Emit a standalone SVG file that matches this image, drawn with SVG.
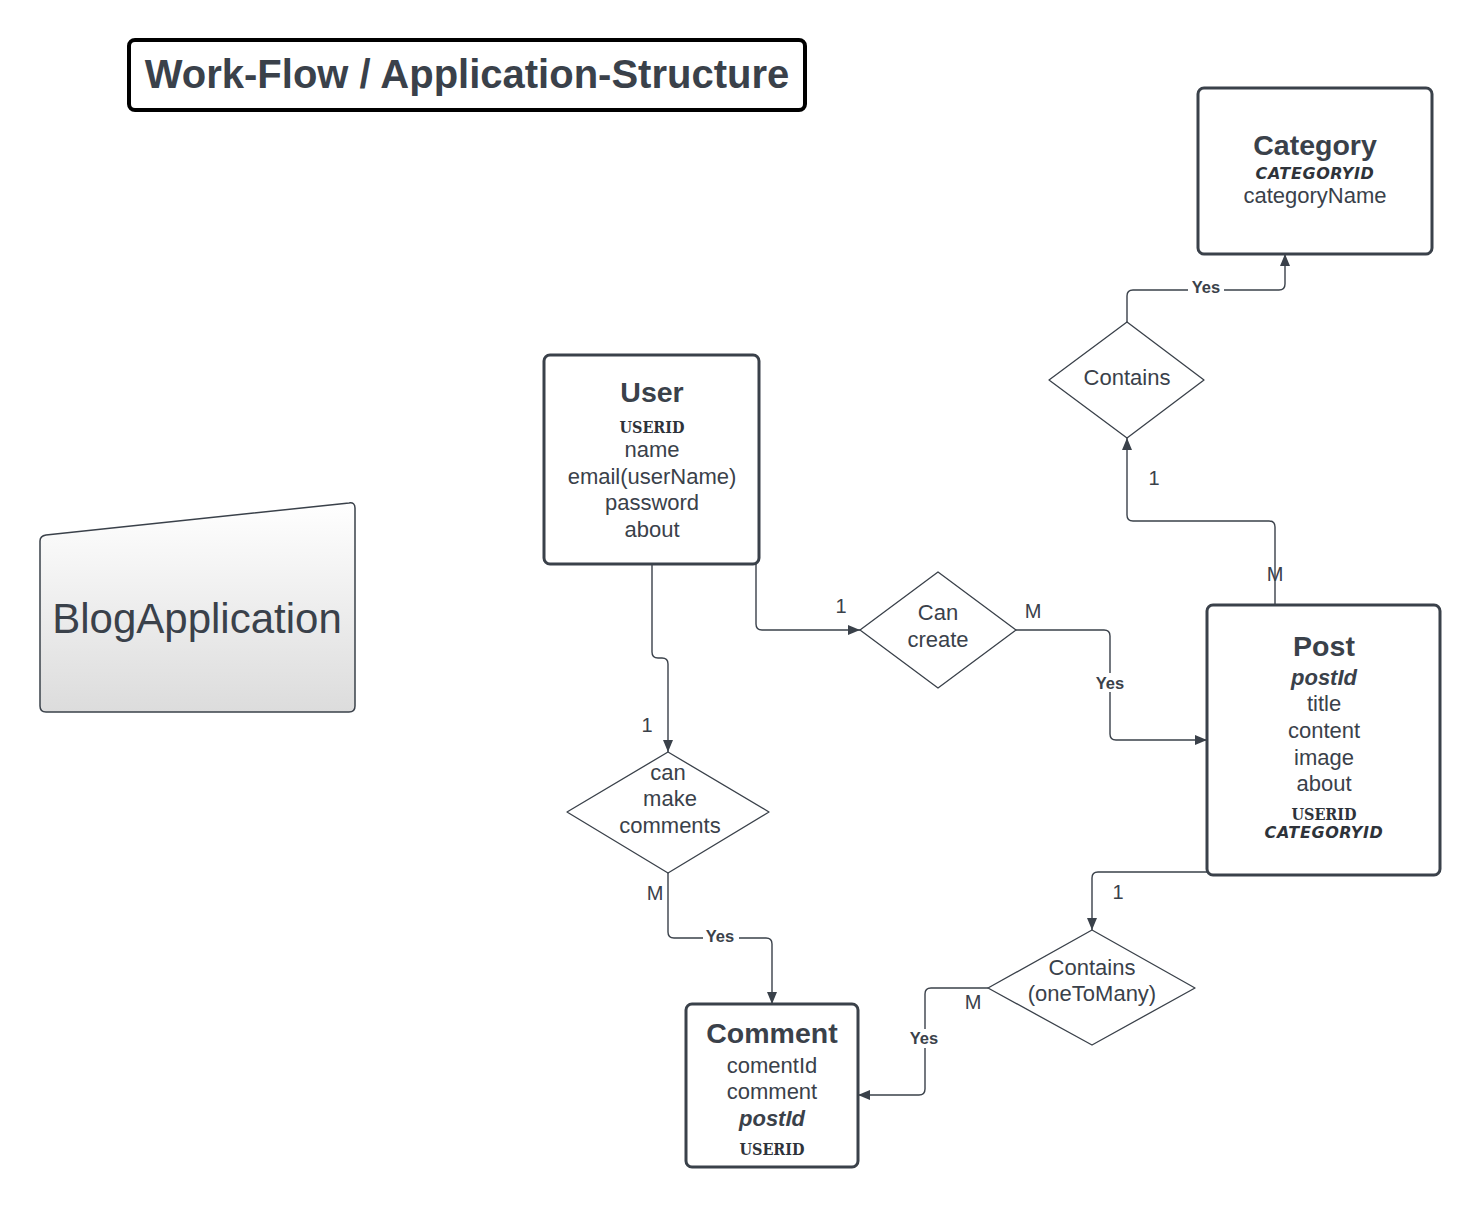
<svg xmlns="http://www.w3.org/2000/svg" width="1480" height="1208" viewBox="0 0 1480 1208">
<style>
text{font-family:"Liberation Sans",Arial,sans-serif;fill:#3a414a;text-anchor:middle}
.box{fill:#fff;stroke:#3a414a;stroke-width:3}
.dia{fill:#fff;stroke:#3a414a;stroke-width:1.3;stroke-linejoin:round}
.title{font-size:28.5px;font-weight:bold}
.attr{font-size:22px}
.pk{font-size:22px;font-weight:bold;font-style:italic}
.uid{font-family:"DejaVu Serif Condensed","DejaVu Serif",serif;font-size:16px;font-weight:bold;fill:#2e333a}
.cid{font-family:"DejaVu Sans","Liberation Sans",sans-serif;font-size:16px;font-weight:bold;font-style:oblique;fill:#2e333a;letter-spacing:0.6px}
.dtext{font-size:22px}
.card{font-size:20px}
.yes{font-size:16.5px;font-weight:bold}
.con{fill:none;stroke:#3a414a;stroke-width:1.4;stroke-linejoin:round}
</style>
<defs>
<marker id="arr" viewBox="0 0 12 10" refX="12" refY="5" markerWidth="12" markerHeight="10" markerUnits="userSpaceOnUse" orient="auto">
<path d="M0,0 L12,5 L0,10 Z" fill="#3a414a"/>
</marker>
<linearGradient id="grad" x1="0" y1="0" x2="0" y2="1">
<stop offset="0" stop-color="#ffffff"/>
<stop offset="1" stop-color="#dcdcdc"/>
</linearGradient>
</defs>
<rect width="1480" height="1208" fill="#fff"/>

<g id="title-box">
<rect x="129" y="40" width="676" height="70" rx="6" fill="#fff" stroke="#000" stroke-width="4"/>
<text x="467" y="88" style="font-size:40px;font-weight:bold">Work-Flow / Application-Structure</text>
</g>

<g id="connectors">
<path class="con" d="M756,564 V624 Q756,630 762,630 H860" marker-end="url(#arr)"/>
<path class="con" d="M1016,630 H1104 Q1110,630 1110,636 V734 Q1110,740 1116,740 H1207" marker-end="url(#arr)"/>
<path class="con" d="M652,564 V652 Q652,658 658,658 H662 Q668,658 668,664 V752" marker-end="url(#arr)"/>
<path class="con" d="M668,873 V932 Q668,938 674,938 H766 Q772,938 772,944 V1004" marker-end="url(#arr)"/>
<path class="con" d="M1207,872 H1098 Q1092,872 1092,878 V930" marker-end="url(#arr)"/>
<path class="con" d="M988,988 H931 Q925,988 925,994 V1089 Q925,1095 919,1095 H858" marker-end="url(#arr)"/>
<path class="con" d="M1275,605 V527 Q1275,521 1269,521 H1133 Q1127,521 1127,515 V438" marker-end="url(#arr)"/>
<path class="con" d="M1127,322 V296 Q1127,290 1133,290 H1279 Q1285,290 1285,284 V254" marker-end="url(#arr)"/>
<text class="card" x="841" y="613">1</text>
<text class="card" x="1033" y="618">M</text>
<rect x="1092" y="673" width="36" height="19" fill="#fff"/>
<text class="yes" x="1110" y="689">Yes</text>
<text class="card" x="647" y="732">1</text>
<text class="card" x="655" y="900">M</text>
<rect x="703" y="929" width="36" height="17" fill="#fff"/>
<text class="yes" x="720" y="942">Yes</text>
<text class="card" x="1118" y="899">1</text>
<text class="card" x="973" y="1009">M</text>
<rect x="906" y="1029" width="36" height="19" fill="#fff"/>
<text class="yes" x="924" y="1044">Yes</text>
<text class="card" x="1154" y="485">1</text>
<text class="card" x="1275" y="581">M</text>
<rect x="1188" y="280" width="36" height="17" fill="#fff"/>
<text class="yes" x="1206" y="293">Yes</text>
</g>

<g id="blog-application">
<path d="M46,535 L349,503 Q355,502 355,508 V706 Q355,712 349,712 H46 Q40,712 40,706 V541 Q40,536 46,535 Z" fill="url(#grad)" stroke="#3a414a" stroke-width="1.5"/>
<text x="197" y="633" style="font-size:42px">BlogApplication</text>
</g>

<g id="category">
<rect class="box" x="1198" y="88" width="234" height="166" rx="6"/>
<text class="title" x="1315" y="155">Category</text>
<text class="cid" x="1315" y="179">CATEGORYID</text>
<text class="attr" x="1315" y="203">categoryName</text>
</g>

<g id="contains-category">
<path class="dia" d="M1127,322 L1204,380 L1127,438 L1049,380 Z"/>
<text class="dtext" x="1127" y="385">Contains</text>
</g>

<g id="user">
<rect class="box" x="544" y="355" width="215" height="209" rx="6"/>
<text class="title" x="652" y="402">User</text>
<text class="uid" x="652" y="433">USERID</text>
<text class="attr" x="652" y="457">name</text>
<text class="attr" x="652" y="484">email(userName)</text>
<text class="attr" x="652" y="510">password</text>
<text class="attr" x="652" y="537">about</text>
</g>

<g id="can-create">
<path class="dia" d="M938,572 L1016,630 L938,688 L860,630 Z"/>
<text class="dtext" x="938" y="620">Can</text>
<text class="dtext" x="938" y="647">create</text>
</g>

<g id="post">
<rect class="box" x="1207" y="605" width="233" height="270" rx="6"/>
<text class="title" x="1324" y="656">Post</text>
<text class="pk" x="1324" y="685">postId</text>
<text class="attr" x="1324" y="711">title</text>
<text class="attr" x="1324" y="738">content</text>
<text class="attr" x="1324" y="765">image</text>
<text class="attr" x="1324" y="791">about</text>
<text class="uid" x="1324" y="820">USERID</text>
<text class="cid" x="1324" y="838">CATEGORYID</text>
</g>

<g id="can-make-comments">
<path class="dia" d="M668,752 L769,812 L668,873 L567,812 Z"/>
<text class="dtext" x="668" y="780">can</text>
<text class="dtext" x="670" y="806">make</text>
<text class="dtext" x="670" y="833">comments</text>
</g>

<g id="contains-onetomany">
<path class="dia" d="M1092,930 L1195,988 L1092,1045 L988,988 Z"/>
<text class="dtext" x="1092" y="975">Contains</text>
<text class="dtext" x="1092" y="1001">(oneToMany)</text>
</g>

<g id="comment">
<rect class="box" x="686" y="1004" width="172" height="163" rx="6"/>
<text class="title" x="772" y="1043">Comment</text>
<text class="attr" x="772" y="1073">comentId</text>
<text class="attr" x="772" y="1099">comment</text>
<text class="pk" x="772" y="1126">postId</text>
<text class="uid" x="772" y="1155">USERID</text>
</g>
</svg>
